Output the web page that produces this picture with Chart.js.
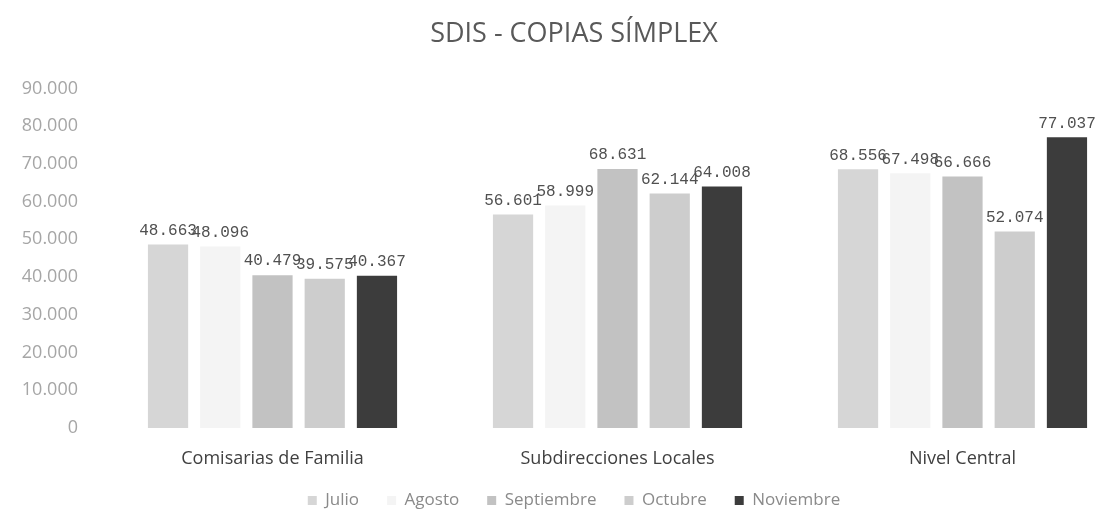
<!DOCTYPE html>
<html>
<head>
<meta charset="utf-8">
<script src="https://cdn.jsdelivr.net/npm/chart.js@4/dist/chart.umd.min.js"></script>
<style>
  html, body { margin: 0; padding: 0; background: #fff; overflow: hidden; }
  #wrap { width: 1140px; height: 519px; }
</style>
</head>
<body>
<div id="wrap"><canvas id="bar-chart"></canvas></div>
<script>
var categories = ['Comisarias de Familia', 'Subdirecciones Locales', 'Nivel Central'];
var julio      = [48663, 56601, 68556];
var agosto     = [48096, 58999, 67498];
var septiembre = [40479, 68631, 66666];
var octubre    = [39575, 62144, 52074];
var noviembre  = [40367, 64008, 77037];
var yTicks     = [0, 10000, 20000, 30000, 40000, 50000, 60000, 70000, 80000, 90000];

function puntos(v) {
    // 48663 -> "48.663"
    return String(v).replace(/\B(?=(\d{3})+(?!\d))/g, '.');
}

var valueLabels = {
    id: 'valueLabels',
    afterDatasetsDraw: function(chart) {
        var ctx = chart.ctx;
        ctx.save();
        ctx.font = '16px "Liberation Mono"';
        ctx.fillStyle = '#505050';
        ctx.textAlign = 'center';
        ctx.textBaseline = 'bottom';
        chart.data.datasets.forEach(function(ds, i) {
            chart.getDatasetMeta(i).data.forEach(function(bar, j) {
                ctx.fillText(puntos(ds.data[j]), bar.x, bar.y - 6);
            });
        });
        ctx.restore();
    }
};

new Chart(document.getElementById('bar-chart'), {
    type: 'bar',
    data: {
        labels: categories,
        datasets: [
            { label: 'Julio', data: julio, backgroundColor: '#d6d6d6' },
            { label: 'Agosto', data: agosto, backgroundColor: '#f4f4f4' },
            { label: 'Septiembre', data: septiembre, backgroundColor: '#c2c2c2' },
            { label: 'Octubre', data: octubre, backgroundColor: '#cdcdcd' },
            { label: 'Noviembre', data: noviembre, backgroundColor: '#3c3c3c' }
        ]
    },
    options: {
        responsive: true,
        maintainAspectRatio: false,
        animation: false,
        datasets: {
            bar: { categoryPercentage: 0.757, barPercentage: 0.77 }
        },
        layout: { padding: { top: 10, left: 13, right: 5, bottom: 0 } },
        plugins: {
            title: {
                display: true,
                text: 'SDIS - COPIAS SÍMPLEX',
                color: '#595959',
                font: { family: 'Open Sans', size: 27, weight: 'normal' },
                padding: { top: 8, bottom: 38 }
            },
            legend: {
                position: 'bottom',
                labels: {
                    color: '#8a8a8a',
                    font: { family: 'Open Sans', size: 17 },
                    boxWidth: 9,
                    boxHeight: 9,
                    padding: 28
                }
            },
            tooltip: { enabled: false }
        },
        scales: {
            x: {
                grid: { display: false },
                border: { display: false },
                ticks: {
                    color: '#404040',
                    font: { family: 'Open Sans', size: 18 },
                    padding: 12
                },
                afterFit: function(scale) { scale.height = 36; }
            },
            y: {
                min: 0,
                max: 90000,
                grid: { display: false },
                border: { display: false },
                afterBuildTicks: function(scale) {
                    scale.ticks = yTicks.map(function(v) { return { value: v }; });
                },
                ticks: {
                    color: '#a6a6a6',
                    font: { family: 'Open Sans', size: 18 },
                    padding: 14,
                    callback: function(v) { return puntos(v); }
                },
                afterFit: function(scale) { scale.width = 87; }
            }
        }
    },
    plugins: [valueLabels]
});
</script>
</body>
</html>
